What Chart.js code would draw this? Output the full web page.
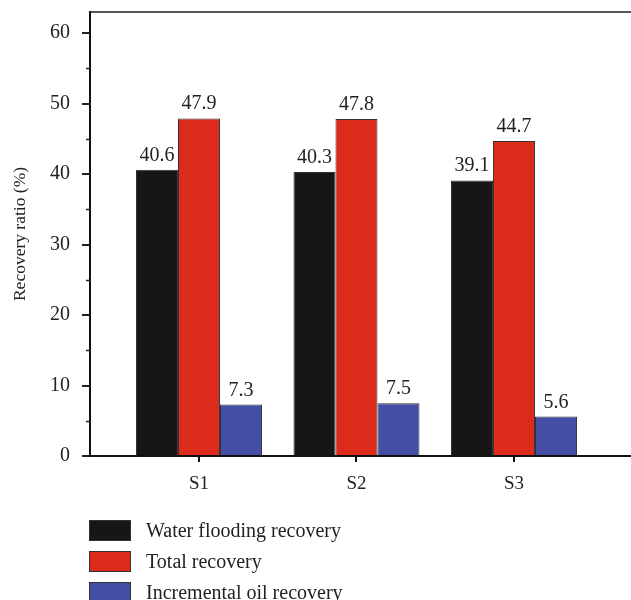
<!DOCTYPE html>
<html><head><meta charset="utf-8">
<script src="https://cdn.jsdelivr.net/npm/chart.js@4"></script>
<style>html,body{margin:0;padding:0;background:#fff;overflow:hidden}#wrap{width:631px;height:600px;position:relative}</style>
</head><body><div id="wrap"><canvas id="c" width="631" height="600"></canvas></div>
<script>
const categories = ['S1', 'S2', 'S3'];
const seriesNames = ['Water flooding recovery', 'Total recovery', 'Incremental oil recovery'];
const waterFlooding = [40.6, 40.3, 39.1];
const totalRecovery = [47.9, 47.8, 44.7];
const incrementalOil = [7.3, 7.5, 5.6];
const yMajorTicks = [0, 10, 20, 30, 40, 50, 60];
const yMinorTicks = [5, 15, 25, 35, 45, 55];
const yAxisTitle = 'Recovery ratio (%)';
const seriesColors = ['#161616', '#dc2b1b', '#454ea5'];

const FONT = "'Liberation Serif', 'Times New Roman', serif";
const TEXT = '#222';
const X_MIN = 0.308, X_MAX = 3.743;

const seriesValues = [waterFlooding, totalRecovery, incrementalOil];
const datasets = seriesValues.map((vals, si) => ({
  label: seriesNames[si],
  data: vals.map((v, i) => ({ x: i + 1, y: v })),
  backgroundColor: seriesColors[si],
  borderColor: '#333',
  borderWidth: 1,
  categoryPercentage: 0.8,
  barPercentage: 1.0
}));

const valueLabels = {
  id: 'valueLabels',
  afterDatasetsDraw(chart) {
    const ctx = chart.ctx;
    ctx.save();
    ctx.font = '20px ' + FONT;
    ctx.fillStyle = TEXT;
    ctx.textAlign = 'center';
    ctx.textBaseline = 'alphabetic';
    chart.data.datasets.forEach((ds, di) => {
      chart.getDatasetMeta(di).data.forEach((bar, i) => {
        ctx.fillText(ds.data[i].y.toFixed(1), bar.x, bar.y - 9);
      });
    });
    ctx.restore();
  }
};

const minorTicks = {
  id: 'minorTicks',
  afterDraw(chart) {
    const ctx = chart.ctx, s = chart.scales.y, left = chart.chartArea.left;
    ctx.save();
    ctx.strokeStyle = '#222';
    ctx.lineWidth = 1.5;
    yMinorTicks.forEach(v => {
      const py = Math.round(s.getPixelForValue(v)) + 0.5;
      ctx.beginPath(); ctx.moveTo(left - 4, py); ctx.lineTo(left, py); ctx.stroke();
    });
    ctx.restore();
  }
};

const boxLegend = {
  id: 'boxLegend',
  afterDraw(chart) {
    const ctx = chart.ctx;
    const lx = 89, ly = 520, bw = 42, bh = 21, gap = 31;
    ctx.save();
    ctx.font = '20px ' + FONT;
    ctx.textBaseline = 'middle';
    ctx.textAlign = 'left';
    chart.data.datasets.forEach((ds, i) => {
      const y = ly + i * gap;
      ctx.fillStyle = ds.backgroundColor;
      ctx.fillRect(lx, y, bw, bh);
      ctx.strokeStyle = '#333';
      ctx.lineWidth = 1;
      ctx.strokeRect(lx + 0.5, y + 0.5, bw - 1, bh - 1);
      ctx.fillStyle = TEXT;
      ctx.fillText(ds.label, 146, y + bh / 2 + 1);
    });
    ctx.restore();
  }
};

new Chart(document.getElementById('c'), {
  type: 'bar',
  data: { datasets },
  options: {
    responsive: false,
    animation: false,
    devicePixelRatio: 1,
    layout: { padding: { top: 12, left: 0, right: 0, bottom: 0 } },
    plugins: { legend: { display: false }, tooltip: { enabled: false } },
    scales: {
      x: {
        type: 'linear',
        position: 'bottom',
        offset: false,
        min: X_MIN, max: X_MAX,
        afterBuildTicks: s => { s.ticks = categories.map((c, i) => ({ value: i + 1 })); },
        afterFit: s => { s.height = 144; s.paddingLeft = 0; s.paddingRight = 0; },
        ticks: {
          autoSkip: false, maxRotation: 0, padding: 11,
          color: TEXT, font: { family: FONT, size: 19 },
          callback: (v, i) => categories[i]
        },
        grid: { display: true, offset: false, drawOnChartArea: false, drawTicks: true, tickLength: 6, color: '#111', lineWidth: 2 },
        border: { display: true, color: '#111', width: 2 }
      },
      x2: {
        type: 'linear',
        position: 'top',
        offset: false,
        min: X_MIN, max: X_MAX,
        afterFit: s => { s.height = 0; s.paddingLeft = 0; s.paddingRight = 0; },
        ticks: { display: false },
        grid: { display: false, offset: false, drawTicks: false },
        border: { display: true, color: '#555', width: 2 }
      },
      y: {
        type: 'linear',
        min: 0, max: 63,
        afterBuildTicks: s => { s.ticks = yMajorTicks.map(v => ({ value: v })); },
        afterFit: s => { s.width = 90; s.paddingTop = 0; s.paddingBottom = 0; },
        ticks: { padding: 12, color: TEXT, font: { family: FONT, size: 20 } },
        grid: { display: true, drawOnChartArea: false, drawTicks: true, tickLength: 8, color: '#222', lineWidth: 2 },
        border: { display: true, color: '#111', width: 2 },
        title: { display: true, text: yAxisTitle, color: TEXT, font: { family: FONT, size: 17.5 }, padding: { top: 10, bottom: 0 } }
      }
    }
  },
  plugins: [valueLabels, minorTicks, boxLegend]
});
</script></body></html>
